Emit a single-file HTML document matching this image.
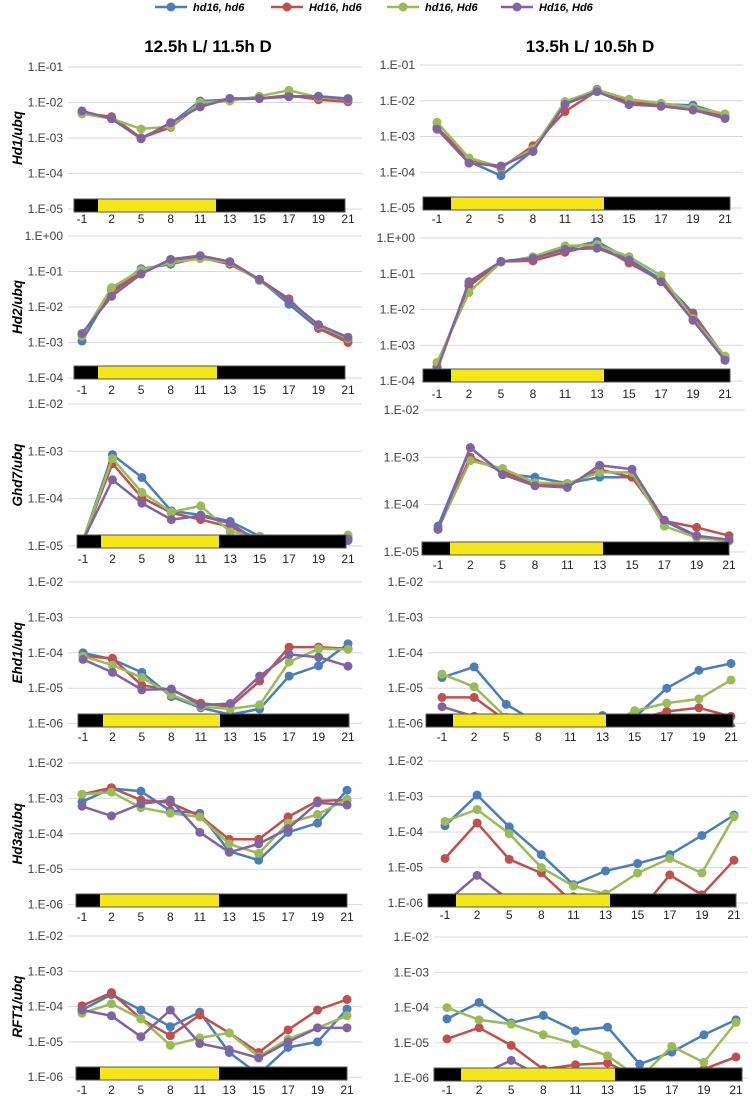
<!DOCTYPE html>
<html><head><meta charset="utf-8">
<style>
body{margin:0;background:#fff;}
svg{display:block;font-family:"Liberation Sans",sans-serif;}
</style></head>
<body>
<svg id="chart" width="755" height="1098" viewBox="0 0 755 1098"></svg>
<script>
const categories = ["-1","2","5","8","11","13","15","17","19","21"];
const seriesNames = ["hd16, hd6","Hd16, hd6","hd16, Hd6","Hd16, Hd6"];
const colors = ["#4a7ebb","#c0504d","#9bbb59","#8064a2"];

// Hd1 12.5h
const hd1L_blue=[5.5e-3,3.5e-3,1e-3,2.5e-3,1.1e-2,1.2e-2,1.3e-2,1.5e-2,1.5e-2,1.3e-2];
const hd1L_red=[5e-3,4e-3,1e-3,2e-3,9e-3,1.3e-2,1.3e-2,1.6e-2,1.2e-2,1.05e-2];
const hd1L_green=[4.8e-3,3.5e-3,1.8e-3,2.1e-3,1e-2,1.1e-2,1.5e-2,2.2e-2,1.4e-2,1.2e-2];
const hd1L_purple=[5.8e-3,3.5e-3,9.5e-4,2.7e-3,7.5e-3,1.3e-2,1.3e-2,1.45e-2,1.5e-2,1.25e-2];
// Hd1 13.5h
const hd1R_blue=[1.7e-3,2e-4,8e-5,4e-4,8e-3,2.1e-2,9e-3,8e-3,7.5e-3,4e-3];
const hd1R_red=[1.8e-3,2.3e-4,1.3e-4,5.5e-4,5e-3,1.9e-2,9e-3,7.5e-3,6.5e-3,3.5e-3];
const hd1R_green=[2.5e-3,2.5e-4,1.4e-4,4.5e-4,9.5e-3,2e-2,1.1e-2,8.5e-3,6.5e-3,4.3e-3];
const hd1R_purple=[1.6e-3,1.8e-4,1.5e-4,3.8e-4,8e-3,1.8e-2,7.8e-3,7e-3,5.5e-3,3.2e-3];
// Hd2
const hd2L_blue=[1.1e-3,3e-2,1.2e-1,1.6e-1,2.5e-1,1.8e-1,6e-2,1.2e-2,2.5e-3,1.2e-3];
const hd2L_red=[1.7e-3,2.5e-2,1e-1,2e-1,2.5e-1,1.6e-1,6e-2,1.7e-2,2.5e-3,1e-3];
const hd2L_green=[1.5e-3,3.5e-2,1.1e-1,1.8e-1,2.3e-1,1.8e-1,5.5e-2,1.5e-2,3e-3,1.3e-3];
const hd2L_purple=[1.8e-3,2e-2,8.5e-2,2.2e-1,2.8e-1,1.9e-1,6e-2,1.5e-2,3.2e-3,1.4e-3];
const hd2R_blue=[2.5e-4,5e-2,2.2e-1,2.8e-1,5e-1,8e-1,2.5e-1,7e-2,8e-3,4.5e-4];
const hd2R_red=[2.5e-4,4.5e-2,2.2e-1,2.3e-1,4e-1,6.5e-1,2e-1,6.5e-2,7e-3,4.5e-4];
const hd2R_green=[3.3e-4,3e-2,2.1e-1,3e-1,6e-1,6.5e-1,3e-1,9e-2,5.5e-3,5e-4];
const hd2R_purple=[2e-4,6e-2,2.2e-1,2.7e-1,4.8e-1,5.2e-1,2.4e-1,6e-2,5e-3,3.8e-4];
// Ghd7
const ghd7L_blue=[1.3e-5,8.5e-4,2.8e-4,5.5e-5,4.5e-5,3.3e-5,1.6e-5,9e-6,9e-6,1.3e-5];
const ghd7L_red=[1.3e-5,5.5e-4,1.05e-4,5e-5,3.6e-5,2.5e-5,1.4e-5,9e-6,9e-6,1.5e-5];
const ghd7L_green=[1.3e-5,7e-4,1.35e-4,5.2e-5,7e-5,2e-5,1.6e-5,9e-6,9e-6,1.7e-5];
const ghd7L_purple=[1.3e-5,2.5e-4,8e-5,3.6e-5,4.3e-5,3e-5,1.2e-5,9e-6,9e-6,1.4e-5];
const ghd7R_blue=[3.5e-5,1.6e-3,4.5e-4,3.8e-4,2.8e-4,3.8e-4,3.8e-4,4.5e-5,2.1e-5,1.7e-5];
const ghd7R_red=[3e-5,1e-3,5e-4,2.7e-4,2.5e-4,5.5e-4,3.8e-4,4.5e-5,3.3e-5,2.2e-5];
const ghd7R_green=[3e-5,8.5e-4,5.8e-4,2.9e-4,2.8e-4,4.8e-4,4.8e-4,3.5e-5,2e-5,1.7e-5];
const ghd7R_purple=[3e-5,1.6e-3,4.3e-4,2.5e-4,2.3e-4,6.8e-4,5.6e-4,4.7e-5,2.2e-5,1.8e-5];
// Ehd1
const ehd1L_blue=[1e-4,6.5e-5,2.8e-5,5.8e-6,2.8e-6,1.8e-6,2.6e-6,2.2e-5,4.3e-5,1.8e-4];
const ehd1L_red=[8e-5,7e-5,1.2e-5,9e-6,3.8e-6,3e-6,1.6e-5,1.45e-4,1.45e-4,1.3e-4];
const ehd1L_green=[8e-5,4.5e-5,2e-5,6.5e-6,3e-6,2.6e-6,3.4e-6,5.5e-5,1.3e-4,1.25e-4];
const ehd1L_purple=[6.5e-5,2.8e-5,9e-6,9.5e-6,3.3e-6,3.7e-6,2.2e-5,9e-5,7.5e-5,4.2e-5];
const ehd1R_blue=[2e-5,4e-5,3.5e-6,1e-6,1e-6,1.7e-6,1.5e-6,1e-5,3.2e-5,5e-5];
const ehd1R_red=[5.5e-6,5.5e-6,1.2e-6,8e-7,8e-7,8e-7,1.3e-6,2.2e-6,2.8e-6,1.6e-6];
const ehd1R_green=[2.5e-5,1.1e-5,1.5e-6,8e-7,8e-7,8e-7,2.3e-6,3.8e-6,5e-6,1.7e-5];
const ehd1R_purple=[3e-6,1.6e-6,8e-7,8e-7,8e-7,8e-7,8e-7,8e-7,8e-7,8e-7];
// Hd3a
const hd3aL_blue=[8e-4,1.9e-3,1.6e-3,4.5e-4,3.8e-4,3.2e-5,1.8e-5,1.1e-4,2e-4,1.7e-3];
const hd3aL_red=[1.3e-3,2e-3,9e-4,7.5e-4,3.2e-4,7e-5,7e-5,3e-4,8.5e-4,9e-4];
const hd3aL_green=[1.3e-3,1.5e-3,5.5e-4,3.8e-4,3e-4,5.2e-5,2.8e-5,2e-4,3.5e-4,9.5e-4];
const hd3aL_purple=[6e-4,3.2e-4,7e-4,9e-4,1.1e-4,3e-5,5.2e-5,1.4e-4,7.5e-4,6.5e-4];
const hd3aR_blue=[1.5e-4,1.1e-3,1.4e-4,2.3e-5,3.3e-6,8e-6,1.3e-5,2.3e-5,8e-5,3e-4];
const hd3aR_red=[1.8e-5,1.8e-4,1.7e-5,7e-6,1e-6,5e-7,5e-7,6.2e-6,1.7e-6,1.6e-5];
const hd3aR_green=[2e-4,4.3e-4,9e-5,1e-5,3e-6,1.8e-6,7e-6,1.8e-5,7e-6,2.7e-4];
const hd3aR_purple=[1e-6,6e-6,1.2e-6,5e-7,1.5e-6,5e-7,5e-7,5e-7,5e-7,5e-7];
// RFT1
const rft1L_blue=[8e-5,2.2e-4,8e-5,2.7e-5,7e-5,5e-6,1.2e-6,7e-6,1e-5,8.5e-5];
const rft1L_red=[1.05e-4,2.5e-4,4.5e-5,1.5e-5,5.8e-5,1.8e-5,5e-6,2.2e-5,8e-5,1.6e-4];
const rft1L_green=[6.5e-5,1.2e-4,4.5e-5,8e-6,1.3e-5,1.8e-5,3.8e-6,1.2e-5,2.5e-5,5.5e-5];
const rft1L_purple=[8e-5,5.5e-5,1.4e-5,8e-5,9e-6,6e-6,3.5e-6,1e-5,2.5e-5,2.5e-5];
const rft1R_blue=[4.8e-5,1.4e-4,3.7e-5,6e-5,2.2e-5,2.8e-5,2.5e-6,5.5e-6,1.7e-5,4.5e-5];
const rft1R_red=[1.3e-5,2.7e-5,8.5e-6,1.8e-6,2.4e-6,2.7e-6,1e-6,1.5e-6,1.8e-6,4e-6];
const rft1R_green=[1e-4,4.5e-5,3.4e-5,1.7e-5,9.5e-6,4.3e-6,1e-6,8e-6,2.8e-6,3.8e-5];
const rft1R_purple=[1e-6,1.2e-6,3.2e-6,1e-6,5e-7,5e-7,5e-7,5e-7,5e-7,5e-7];

const NS="http://www.w3.org/2000/svg";
const svg=document.getElementById('chart');
function mk(tag,attrs,parent){const e=document.createElementNS(NS,tag);for(const k in attrs)e.setAttribute(k,attrs[k]);(parent||svg).appendChild(e);return e;}

const panels=[
 {id:'hd1-left',label:'Hd1/ubq',series:[hd1L_blue,hd1L_red,hd1L_green,hd1L_purple],topExp:-1,nDec:4,yTop:67,dec:35.5,gx0:68,gx1:362,cx0:82,cx1:348,bx0:74,bx1:345,yx0:98,yx1:216,by0:199,by1:212,ly:223},
 {id:'hd1-right',label:null,series:[hd1R_blue,hd1R_red,hd1R_green,hd1R_purple],topExp:-1,nDec:4,yTop:65,dec:35.75,gx0:420,gx1:743,cx0:437,cx1:725,bx0:423,bx1:730,yx0:451,yx1:604,by0:197,by1:210,ly:223},
 {id:'hd2-left',label:'Hd2/ubq',series:[hd2L_blue,hd2L_red,hd2L_green,hd2L_purple],topExp:0,nDec:4,yTop:236,dec:35.5,gx0:68,gx1:362,cx0:82,cx1:348,bx0:74,bx1:345,yx0:98,yx1:217,by0:366,by1:379,ly:394},
 {id:'hd2-right',label:null,series:[hd2R_blue,hd2R_red,hd2R_green,hd2R_purple],topExp:0,nDec:4,yTop:238,dec:35.75,gx0:420,gx1:743,cx0:437,cx1:725,bx0:423,bx1:730,yx0:451,yx1:604,by0:369,by1:382,ly:398},
 {id:'ghd7-left',label:'Ghd7/ubq',series:[ghd7L_blue,ghd7L_red,ghd7L_green,ghd7L_purple],topExp:-2,nDec:3,yTop:404,dec:47.3,gx0:68,gx1:362,cx0:83,cx1:348,bx0:77,bx1:346,yx0:101,yx1:219,by0:535,by1:548,ly:563},
 {id:'ghd7-right',label:null,series:[ghd7R_blue,ghd7R_red,ghd7R_green,ghd7R_purple],topExp:-2,nDec:3,yTop:410,dec:47.3,gx0:424,gx1:745,cx0:438,cx1:729,bx0:422,bx1:729,yx0:450,yx1:603,by0:542,by1:555,ly:569},
 {id:'ehd1-left',label:'Ehd1/ubq',series:[ehd1L_blue,ehd1L_red,ehd1L_green,ehd1L_purple],topExp:-2,nDec:4,yTop:582,dec:35.4,gx0:68,gx1:362,cx0:83,cx1:348,bx0:78,bx1:349,yx0:103,yx1:220,by0:714,by1:727,ly:741},
 {id:'ehd1-right',label:null,series:[ehd1R_blue,ehd1R_red,ehd1R_green,ehd1R_purple],topExp:-2,nDec:4,yTop:582,dec:35.4,gx0:428,gx1:746,cx0:442,cx1:731,bx0:426,bx1:733,yx0:453,yx1:606,by0:714,by1:727,ly:741},
 {id:'hd3a-left',label:'Hd3a/ubq',series:[hd3aL_blue,hd3aL_red,hd3aL_green,hd3aL_purple],topExp:-2,nDec:4,yTop:763,dec:35.4,gx0:68,gx1:362,cx0:82,cx1:347,bx0:76,bx1:347,yx0:100,yx1:219,by0:894,by1:907,ly:921},
 {id:'hd3a-right',label:null,series:[hd3aR_blue,hd3aR_red,hd3aR_green,hd3aR_purple],topExp:-2,nDec:4,yTop:761,dec:35.5,gx0:428,gx1:748,cx0:445,cx1:734,bx0:428,bx1:736,yx0:456,yx1:610,by0:894,by1:907,ly:919},
 {id:'rft1-left',label:'RFT1/ubq',series:[rft1L_blue,rft1L_red,rft1L_green,rft1L_purple],topExp:-2,nDec:4,yTop:936,dec:35.3,gx0:68,gx1:362,cx0:82,cx1:347,bx0:76,bx1:347,yx0:100,yx1:219,by0:1067,by1:1080,ly:1094},
 {id:'rft1-right',label:null,series:[rft1R_blue,rft1R_red,rft1R_green,rft1R_purple],topExp:-2,nDec:4,yTop:937,dec:35.3,gx0:434,gx1:748,cx0:447,cx1:736,bx0:434,bx1:742,yx0:461,yx1:615,by0:1068,by1:1081,ly:1094}
];

function expLabel(e){const s=e<0?'-':'+';return '1.E'+s+String(Math.abs(e)).padStart(2,'0');}

panels.forEach((p,pi)=>{
  const g=mk('g',{});
  
  
  const yScale=v=>p.yTop+(p.topExp-Math.log10(v))*p.dec;
  const xScale=i=>p.cx0+i*(p.cx1-p.cx0)/(categories.length-1);
  for(let k=0;k<=p.nDec;k++){
    const y=p.yTop+k*p.dec;
    const gl=mk('line',{x1:p.gx0,x2:p.gx1,y1:y,y2:y,stroke:'#d9d9d9','stroke-width':1},g);
    
    
    const t=mk('text',{x:p.gx0-5,y:y+4,'text-anchor':'end','font-size':12,fill:'#404040'},g);
    
    
    t.textContent=expLabel(p.topExp-k);
  }
  const clipId='clip'+pi;
  const cp=mk('clipPath',{id:clipId},g);
  mk('rect',{x:p.gx0-10,y:p.yTop-10,width:p.gx1-p.gx0+20,height:p.by1-p.yTop+10},cp);
  const plot=mk('g',{'clip-path':'url(#'+clipId+')'},g);
  p.series.forEach((arr,si)=>{
    const pts=arr.map((v,i)=>xScale(i).toFixed(1)+','+yScale(v).toFixed(1)).join(' ');
    const pl=mk('polyline',{points:pts,fill:'none',stroke:colors[si],'stroke-width':2.5,'stroke-linejoin':'round'},plot);
    
    
    arr.forEach((v,i)=>{
      const c=mk('circle',{cx:xScale(i),cy:yScale(v),r:4.5,fill:colors[si]},plot);
      
      
    });
  });
  const bar=mk('g',{},g);
  
  
  mk('rect',{x:p.bx0,y:p.by0,width:p.bx1-p.bx0,height:p.by1-p.by0,fill:'#000',stroke:'#555','stroke-width':1},bar);
  mk('rect',{x:p.yx0,y:p.by0+0.5,width:p.yx1-p.yx0,height:p.by1-p.by0-1,fill:'#f5e61a'},bar);
  categories.forEach((c,i)=>{
    const t=mk('text',{x:xScale(i),y:p.ly,'text-anchor':'middle','font-size':12,fill:'#222'},g);
    
    
    t.textContent=c;
  });
  if(p.label){
    const cy=p.yTop+p.nDec*p.dec/2;
    const t=mk('text',{x:0,y:0,transform:'translate(22,'+cy+') rotate(-90)','text-anchor':'middle','font-size':13.5,'font-weight':'bold','font-style':'italic',fill:'#000'},g);
    
    
    t.textContent=p.label;
  }
});

[["12.5h L/ 11.5h D",208],["13.5h L/ 10.5h D",590]].forEach(([s,x])=>{
  const t=mk('text',{x:x,y:52,'text-anchor':'middle','font-size':17,'font-weight':'bold',fill:'#000'});
  
  
  t.textContent=s;
});

const legX=[155,271,387,501];
seriesNames.forEach((n,i)=>{
  const g=mk('g',{});
  
  
  mk('line',{x1:legX[i],x2:legX[i]+32,y1:7,y2:7,stroke:colors[i],'stroke-width':2.5},g);
  mk('circle',{cx:legX[i]+16,cy:7,r:4.5,fill:colors[i]},g);
  const t=mk('text',{x:legX[i]+38,y:11,'font-size':11,'font-weight':'bold','font-style':'italic',fill:'#000'},g);
  t.textContent=n;
});
</script>
</body></html>
